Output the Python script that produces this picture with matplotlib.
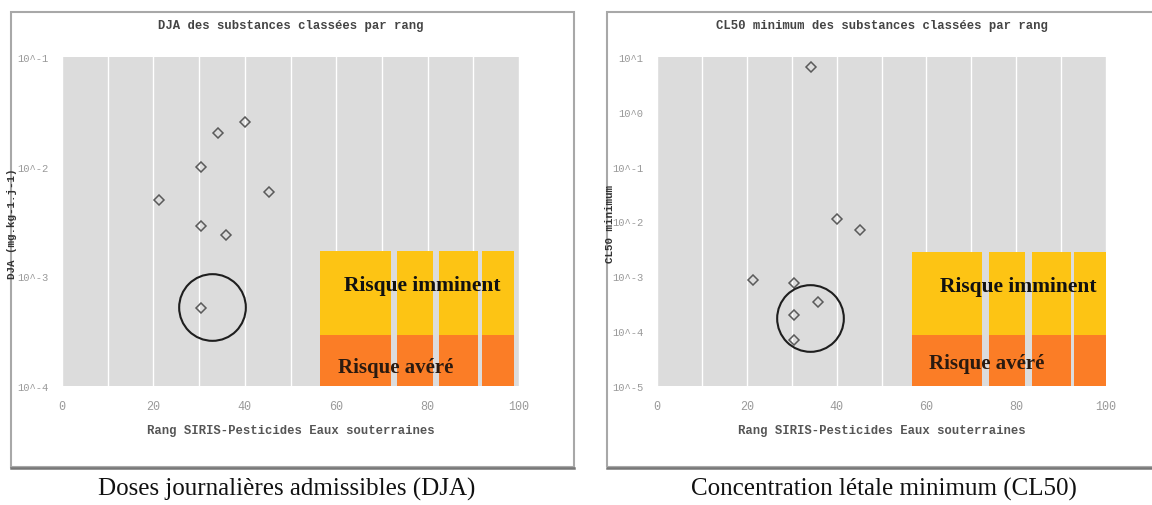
import matplotlib
matplotlib.use("Agg")
import matplotlib.pyplot as plt
from matplotlib.patches import Rectangle
from matplotlib.lines import Line2D

# ─────────────────────────────────────────────────────────────
# Data
# ─────────────────────────────────────────────────────────────

rang = [21.3, 30.5, 30.5, 30.5, 34.2, 35.9, 40.0, 45.2]
dja = [0.0050, 0.0100, 0.0029, 0.00051, 0.0202, 0.0024, 0.0254, 0.0059]
cl50 = [8.5e-4, 7.6e-4, 2.0e-4, 6.9e-5, 6.7, 3.4e-4, 0.0109, 0.0070]

# highlighted group (circle centre)
circle_dja = (32.8, 5.2e-4)
circle_cl50 = (34.0, 1.75e-4)

# risk zones: x bands and y limits for each panel
bands_dja = [(56.5, 71.9), (73.4, 81.2), (82.5, 91.0), (91.8, 99.0)]
bands_cl50 = [(56.9, 72.4), (74.0, 81.9), (83.5, 92.2), (92.9, 100.0)]
zone_dja = (1e-4, 2.94e-4, 1.71e-3)     # bottom, orange/yellow, top
zone_cl50 = (1e-5, 8.5e-5, 2.77e-3)

xticks = [0, 20, 40, 60, 80, 100]
yticks_dja = [1e-4, 1e-3, 1e-2, 1e-1]
ylabels_dja = ["10^-4", "10^-3", "10^-2", "10^-1"]
yticks_cl50 = [1e-5, 1e-4, 1e-3, 1e-2, 1e-1, 1e0, 1e1]
ylabels_cl50 = ["10^-5", "10^-4", "10^-3", "10^-2", "10^-1", "10^0", "10^1"]

MONO = "Liberation Mono"
SERIF = "Liberation Serif"
BG = "#dcdcdc"
YELLOW = "#fdc414"
ORANGE = "#fb7d26"

W, H = 1152, 506
fig = plt.figure(figsize=(W / 100, H / 100), dpi=100)
fig.patch.set_facecolor("white")


def px(x0, y0, x1, y1):
    # pixel box (top-left origin) -> figure fraction [l, b, w, h]
    return [x0 / W, 1 - y1 / H, (x1 - x0) / W, (y1 - y0) / H]


def frame(x0, y0, x1, y1):
    l, b, w, h = px(x0, y0, x1, y1)
    fig.add_artist(Rectangle((l, b), w, h, transform=fig.transFigure,
                             facecolor="none", edgecolor="#a8a8a8",
                             linewidth=1.5, zorder=-5))
    # darker bottom shadow
    fig.add_artist(Line2D([l, l + w], [b - 0.002, b - 0.002],
                          transform=fig.transFigure, color="#777777",
                          linewidth=1.8, zorder=-5))


def panel(box, yvals, yticks, ylabels, ylim, bands, zone, circle,
          title, ylabel, ylabel_x, txt_imm, txt_sev):
    ax = fig.add_axes(px(*box))
    ax.set_facecolor(BG)
    ax.set_yscale("log")
    ax.set_xlim(0, 100)
    ax.set_ylim(*ylim)

    for s in ax.spines.values():
        s.set_visible(False)

    ax.set_xticks(xticks)
    ax.set_xticklabels([str(t) for t in xticks])
    ax.set_xticks(range(10, 100, 20), minor=True)
    ax.set_yticks(yticks)
    ax.set_yticklabels(ylabels)
    ax.yaxis.set_minor_locator(matplotlib.ticker.NullLocator())
    ax.tick_params(length=0, which="both", labelsize=8.5, labelcolor="#9a9a9a",
                   labelfontfamily=MONO)
    ax.tick_params(axis="y", labelsize=7.6, pad=10)
    ax.tick_params(axis="x", pad=10)
    ax.grid(True, axis="x", which="both", color="white", linewidth=1)
    ax.grid(False, axis="y", which="both")
    ax.set_axisbelow(True)

    # risk zones
    bottom, mid, top = zone
    for x0, x1 in bands:
        ax.bar(x0, mid - bottom, width=x1 - x0, bottom=bottom, align="edge",
               color=ORANGE, linewidth=0, zorder=2)
        ax.bar(x0, top - mid, width=x1 - x0, bottom=mid, align="edge",
               color=YELLOW, linewidth=0, zorder=2)

    ax.text(txt_imm[0], txt_imm[1], "Risque imminent", ha="center",
            va="center", family=SERIF, fontsize=15.5, fontweight="bold",
            color="#111111", zorder=3)
    ax.text(txt_sev[0], txt_sev[1], "Risque avéré", ha="left",
            va="center", family=SERIF, fontsize=15, fontweight="bold",
            color="#2a1a10", zorder=3)

    # points
    ax.plot(rang, yvals, linestyle="none", marker="D", markersize=5.5,
            markerfacecolor="none", markeredgecolor="#5a5a5a",
            markeredgewidth=1.1, zorder=4)

    # highlight circle
    ax.plot([circle[0]], [circle[1]], linestyle="none", marker="o",
            markersize=48, markerfacecolor="none", markeredgecolor="#1e1e1e",
            markeredgewidth=1.5, zorder=5, clip_on=False)

    ax.set_xlabel("Rang SIRIS-Pesticides Eaux souterraines", family=MONO,
                  fontsize=8.8, fontweight="bold", color="#555555", labelpad=9)

    cx = (box[0] + box[2]) / 2 / W
    fig.text(cx, 1 - 26 / H, title, ha="center", va="center", family=MONO,
             fontsize=8.8, fontweight="bold", color="#444444")
    fig.text(ylabel_x / W, 1 - 224 / H, ylabel, rotation=90, ha="center",
             va="center", family=MONO, fontsize=7.8, fontweight="bold",
             color="#333333")
    return ax


frame(11, 13, 574, 468)
frame(607, 13, 1160, 468)

panel((62, 58, 519, 387), dja, yticks_dja, ylabels_dja, (1e-4, 1e-1),
      bands_dja, zone_dja, circle_dja,
      "DJA des substances classées par rang", "DJA (mg.kg-1.j-1)", 12,
      (78.8, 8.3e-4), (60.5, 1.5e-4))

panel((657, 58, 1106, 387), cl50, yticks_cl50, ylabels_cl50, (1e-5, 1e1),
      bands_cl50, zone_cl50, circle_cl50,
      "CL50 minimum des substances classées par rang", "CL50 minimum", 610,
      (80.5, 6.8e-4), (60.5, 2.6e-5))

fig.text(287 / W, 1 - 489 / H, "Doses journalières admissibles (DJA)",
         ha="center", va="center", family=SERIF, fontsize=18, color="#111111")
fig.text(884 / W, 1 - 489 / H, "Concentration létale minimum (CL50)",
         ha="center", va="center", family=SERIF, fontsize=18, color="#111111")

fig.savefig("out.png", dpi=100)
